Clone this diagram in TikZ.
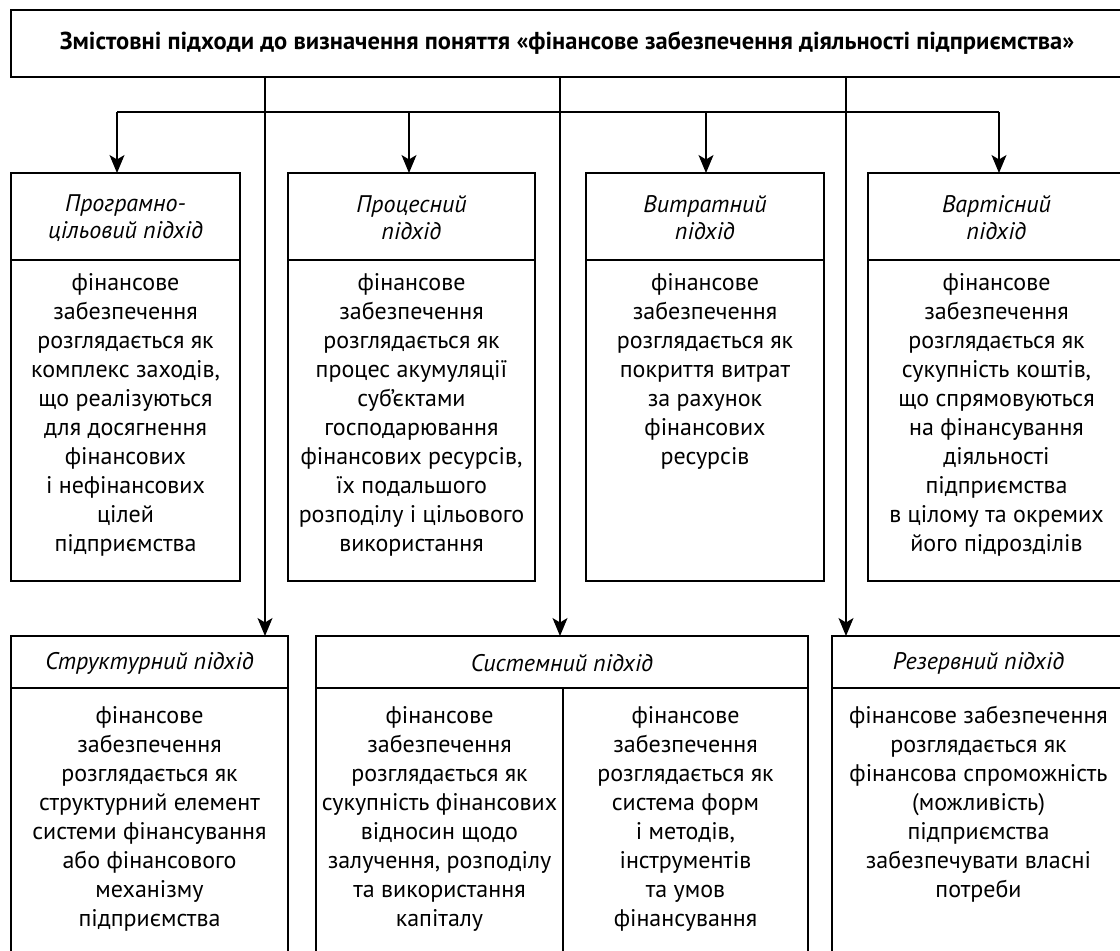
\documentclass[tikz,border=0pt]{standalone}
\usepackage{fontspec}
\setmainfont{PT Sans}
\usetikzlibrary{arrows.meta}
\newcommand\mkbox[6][]{%
  \node[frame,minimum width={#4-#2},minimum height={#5-#3},#1] (#6) at ({(#2+#4)/2},{(#3+#5)/2}) {};}
\begin{document}
\begin{tikzpicture}[x=1pt,y=-1pt,
  frame/.style={draw,line width=2.8pt,inner sep=0pt,outer sep=0pt},
  conn/.style={line width=1.3pt},
  arr/.style={line width=1.3pt,-{Stealth[length=18pt,width=15pt,inset=4.5pt]}},
  head/.style={font=\itshape\fontsize{24}{27}\selectfont,align=center,inner sep=0pt},
  body/.style={font=\fontsize{24}{29}\selectfont,align=center,inner sep=0pt,anchor=north},
  title/.style={font=\bfseries\fontsize{24.5}{28}\selectfont,inner sep=0pt}]
\useasboundingbox (0,0) rectangle (1120,951);
% top box
\mkbox{11}{10}{1125}{77}{top}
\node[title] (tt) at (567,43.5) {Змістовні підходи до визначення поняття «фінансове забезпечення діяльності підприємства»};
% row 1 headers and bodies
\mkbox{11}{173}{240}{260}{h1}
\mkbox{11}{260}{240}{581}{b1}
\mkbox{288}{173}{535}{260}{h2}
\mkbox{288}{260}{535}{581}{b2}
\mkbox{586}{173}{824}{260}{h3}
\mkbox{586}{260}{824}{581}{b3}
\mkbox{868}{173}{1125}{260}{h4}
\mkbox{868}{260}{1125}{581}{b4}
% row 2
\mkbox{11}{636}{288}{688}{h5}
\mkbox{11}{688}{288}{965}{b5}
\mkbox{316}{636}{808}{688}{h6}
\mkbox{316}{688}{563}{965}{b6l}
\mkbox{563}{688}{808}{965}{b6r}
\mkbox{832}{636}{1125}{688}{h7}
\mkbox{832}{688}{1125}{965}{b7}
% header texts
\node[head] (ht1) at (125.5,218) {Програмно-\\цільовий підхід};
\node[head] (ht2) at (411.5,218) {Процесний\\підхід};
\node[head] (ht3) at (705,218) {Витратний\\підхід};
\node[head] (ht4) at (996.5,218) {Вартісний\\підхід};
\node[head] (ht5) at (149.5,663) {Структурний підхід};
\node[head] (ht6) at (562,663) {Системний підхід};
\node[head] (ht7) at (978.5,663) {Резервний підхід};
% body texts
\node[body] (bt1) at (125.5,273) {фінансове\\забезпечення\\розглядається як\\комплекс заходів,\\що реалізуються\\для досягнення\\фінансових\\і нефінансових\\цілей\\підприємства};
\node[body] (bt2) at (411.5,273) {фінансове\\забезпечення\\розглядається як\\процес акумуляції\\суб’єктами\\господарювання\\фінансових ресурсів,\\їх подальшого\\розподілу і цільового\\використання};
\node[body] (bt3) at (705,273) {фінансове\\забезпечення\\розглядається як\\покриття витрат\\за рахунок\\фінансових\\ресурсів};
\node[body] (bt4) at (996.5,273) {фінансове\\забезпечення\\розглядається як\\сукупність коштів,\\що спрямовуються\\на фінансування\\діяльності\\підприємства\\в цілому та окремих\\його підрозділів};
\node[body] (bt5) at (149.5,706) {фінансове\\забезпечення\\розглядається як\\структурний елемент\\системи фінансування\\або фінансового\\механізму\\підприємства};
\node[body] (bt6l) at (439.5,706) {фінансове\\забезпечення\\розглядається як\\сукупність фінансових\\відносин щодо\\залучення, розподілу\\та використання\\капіталу};
\node[body] (bt6r) at (685.5,706) {фінансове\\забезпечення\\розглядається як\\система форм\\і методів,\\інструментів\\та умов\\фінансування};
\node[body] (bt7) at (978.5,706) {фінансове забезпечення\\розглядається як\\фінансова спроможність\\(можливість)\\підприємства\\забезпечувати власні\\потреби};
% connectors
\coordinate (j1) at (117,112);
\coordinate (j2) at (409,112);
\coordinate (j3) at (706,112);
\coordinate (j4) at (999,112);
\draw[conn] (j1) -- (j4);
\draw[arr] (j1) -- (j1 |- h1.north);
\draw[arr] (j2) -- (j2 |- h2.north);
\draw[arr] (j3) -- (j3 |- h3.north);
\draw[arr] (j4) -- (j4 |- h4.north);
\coordinate (t1) at (265,77);
\coordinate (t2) at (560,77);
\coordinate (t3) at (846,77);
\draw[arr] (t1) -- (t1 |- h5.north);
\draw[arr] (t2) -- (t2 |- h6.north);
\draw[arr] (t3) -- (t3 |- h7.north);
\end{tikzpicture}
\end{document}
